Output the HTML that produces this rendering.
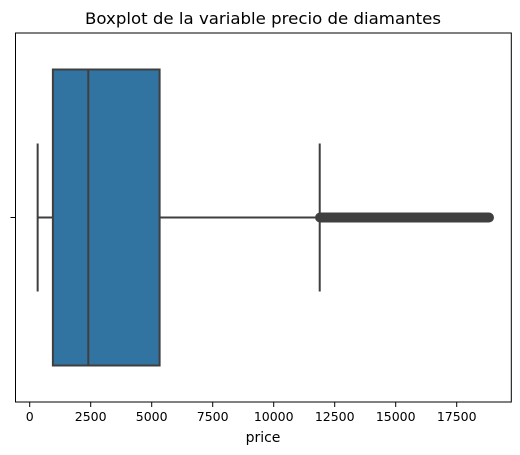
<!DOCTYPE html>
<html><head><meta charset="utf-8"><style>
html,body{margin:0;padding:0;background:#fff;}
svg{display:block;font-family:"DejaVu Sans","Liberation Sans",sans-serif;}
</style></head><body>
<svg id="chart" width="520" height="455"></svg>
<script>
const tickValues = [0, 2500, 5000, 7500, 10000, 12500, 15000, 17500];
const tickLabels = ["0","2500","5000","7500","10000","12500","15000","17500"];
const boxStats = [326, 950, 2401, 5324, 11886]; // whisker-low, q1, median, q3, whisker-high
const outlierRange = [11900, 18823];

const svg = document.getElementById('chart');
const NS = 'http://www.w3.org/2000/svg';
const L = 15.5, R = 511.3, T = 33, B = 402;
const x = v => 29.7 + v * 0.0244;
const cy = 217.5, boxH = 296, capH = 148;
function mk(tag, attrs, parent) {
  const e = document.createElementNS(NS, tag);
  for (const k in attrs) e.setAttribute(k, attrs[k]);
  (parent || svg).appendChild(e);
  return e;
}
const title = mk('text', {x: 263, y: 24, 'text-anchor': 'middle', 'font-size': 16, fill: '#000', textLength: 356, lengthAdjust: 'spacingAndGlyphs'});
title.textContent = 'Boxplot de la variable precio de diamantes';



const [wl, q1, med, q3, wh] = boxStats;
const wl1 = mk('line', {x1: x(wl), x2: x(q1), y1: cy, y2: cy, stroke: '#3f3f3f', 'stroke-width': 2});


const wl2 = mk('line', {x1: x(q3), x2: x(wh), y1: cy, y2: cy, stroke: '#3f3f3f', 'stroke-width': 2});


const c1 = mk('line', {x1: x(wl), x2: x(wl), y1: cy - capH/2, y2: cy + capH/2, stroke: '#3f3f3f', 'stroke-width': 2});


const c2 = mk('line', {x1: x(wh), x2: x(wh), y1: cy - capH/2, y2: cy + capH/2, stroke: '#3f3f3f', 'stroke-width': 2});


const box = mk('rect', {x: x(q1), y: cy - boxH/2, width: x(q3) - x(q1), height: boxH, fill: '#3274a1', stroke: '#3f3f3f', 'stroke-width': 2});


const m = mk('line', {x1: x(med), x2: x(med), y1: cy - boxH/2, y2: cy + boxH/2, stroke: '#3f3f3f', 'stroke-width': 2});


const out = mk('line', {x1: x(outlierRange[0]), x2: x(outlierRange[1]), y1: cy, y2: cy, stroke: '#3f3f3f', 'stroke-width': 10, 'stroke-linecap': 'round'});



const frame = mk('rect', {x: L, y: T, width: R - L, height: B - T, fill: 'none', stroke: '#000', 'stroke-width': 1});


const yt = mk('line', {x1: L - 5, x2: L, y1: cy, y2: cy, stroke: '#000', 'stroke-width': 1});



tickValues.forEach((v, i) => {
  const t = mk('line', {x1: x(v), x2: x(v), y1: B, y2: B + 5, stroke: '#000', 'stroke-width': 1});
  
  
  const l = mk('text', {x: x(v), y: B + 19, 'text-anchor': 'middle', 'font-size': 12.5, fill: '#000'});
  l.textContent = tickLabels[i];
  
  
});
const xl = mk('text', {x: 263, y: B + 40, 'text-anchor': 'middle', 'font-size': 14, fill: '#000'});
xl.textContent = 'price';


</script>
</body></html>
